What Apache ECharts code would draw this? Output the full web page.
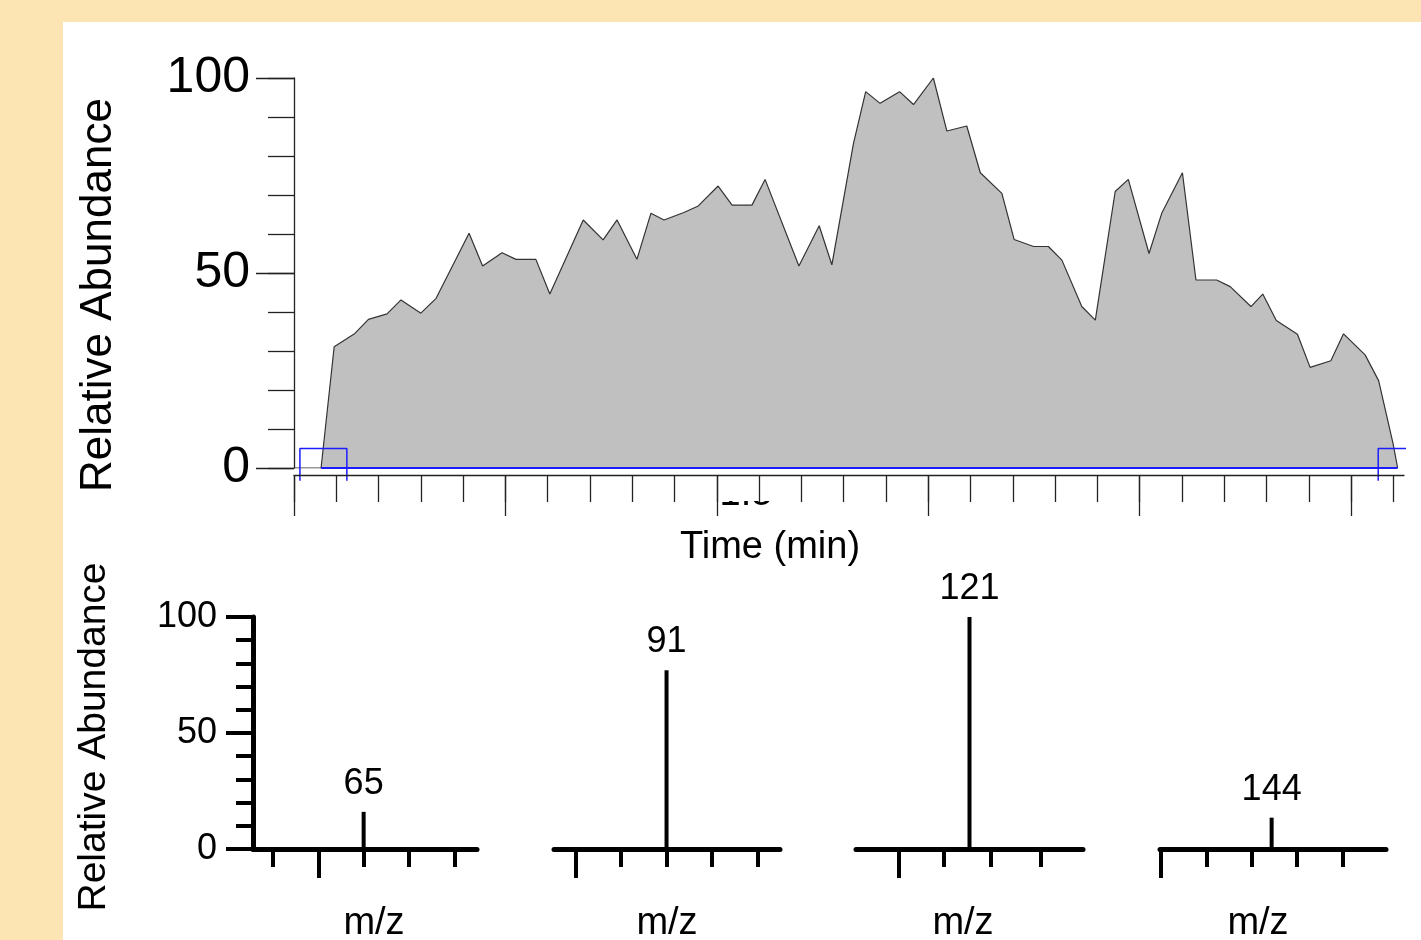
<!DOCTYPE html>
<html>
<head>
<meta charset="utf-8">
<script src="https://cdn.jsdelivr.net/npm/echarts@6/dist/echarts.min.js"></script>
<style>
  html, body { margin: 0; padding: 0; background: #fde5b3; }
  #panel { position: absolute; left: 63px; top: 22px; right: 0; bottom: 0; background: #fff; }
  #chart { position: absolute; left: 0; top: 0; width: 1421px; height: 940px; }
</style>
</head>
<body>
<div id="panel"></div>
<div id="chart"></div>
<script>
// chromatogram (TIC): time in minutes, relative abundance in %
const ticTime = [0, 0.064, 0.095, 0.144, 0.176, 0.220, 0.253, 0.300, 0.336, 0.414, 0.446, 0.492, 0.525,
  0.572, 0.605, 0.684, 0.731, 0.764, 0.811, 0.844, 0.875, 0.922, 0.956, 1.003, 1.036, 1.083, 1.114,
  1.194, 1.242, 1.272, 1.323, 1.352, 1.386, 1.432, 1.465, 1.512, 1.544, 1.591, 1.623, 1.674, 1.703,
  1.749, 1.784, 1.816, 1.863, 1.895, 1.942, 1.973, 2.022, 2.052, 2.101, 2.133, 2.182, 2.214, 2.263,
  2.291, 2.323, 2.373, 2.403, 2.452, 2.482, 2.533, 2.565, 2.599, 2.610]
const ticAbundance = [0, 0, 31.1, 34.5, 38.1, 39.5, 43.1, 39.7, 43.5, 60.2, 51.8, 55.2, 53.5,
  53.5, 44.6, 63.6, 58.5, 63.6, 53.5, 65.3, 63.6, 65.5, 67.2, 72.3, 67.4, 67.4, 74.0,
  51.8, 62.1, 52.1, 83.2, 96.5, 93.5, 96.5, 93.2, 100, 86.4, 87.7, 75.7, 70.4, 58.6,
  56.8, 56.8, 53.3, 41.4, 37.9, 70.9, 74.0, 55.0, 65.3, 75.7, 48.2, 48.2, 46.5, 41.4,
  44.6, 37.8, 34.3, 25.8, 27.5, 34.4, 29.0, 22.4, 6.3, 0]
const timeMax = 2.625
const timeMinorTicks = [0, 0.1, 0.2, 0.3, 0.4, 0.5, 0.6, 0.7, 0.8, 0.9, 1, 1.1, 1.2, 1.3, 1.4,
  1.5, 1.6, 1.7, 1.8, 1.9, 2, 2.1, 2.2, 2.3, 2.4, 2.5, 2.6]
const timeMajorTicks = [0, 0.5, 1, 1.5, 2, 2.5]

// integration baseline and peak start / end markers (blue)
const baselineTime = [0.064, 2.610]
const startMarkTime = [0.014, 0.125]
const endMarkTime = [2.564, 2.656]
const markTop = 5
const markBottom = -3.3

// mass spectra
const mzPeaks = [65, 91, 121, 144]
const peakAbundance = [16, 77, 100, 13.5]
const mzMin = [52.8, 78.6, 108.5, 131.7]
const mzMax = [77.5, 103.5, 133.5, 156.6]
const mzShortTicks = [[55, 65, 70, 75], [86, 91, 96, 101], [118.2, 123.3, 128.8], [136.8, 141.8, 146.8, 151.8]]
const mzLongTicks = [[60], [81], [113.2], [131.8]]

const FONT = '"Liberation Sans", Arial, sans-serif'
const chart = echarts.init(document.getElementById('chart'))

const miniBox = [[253, 224], [554, 226], [856, 227], [1160, 226]] // left, width
const namePad = [[0, 0, 0, 18], [0, 0, 0, 0], [0, 13, 0, 0], [0, 30, 0, 0]]

const grid = [{ left: 294, top: 78, width: 1110, height: 390, outerBoundsMode: 'none', containLabel: false }]
const xAxis = [
  {
    gridIndex: 0, type: 'value', min: 0, max: timeMax, position: 'bottom', offset: 7, z: 5,
    axisLine: { onZero: false, lineStyle: { color: '#222', width: 1.3 } },
    axisTick: { customValues: timeMinorTicks, length: 27, lineStyle: { color: '#222', width: 1.3 } },
    axisLabel: { show: false },
    splitLine: { show: false },
    name: 'Time (min)', nameLocation: 'middle', nameGap: 54,
    nameTextStyle: { fontSize: 38, fontFamily: FONT, color: '#000', padding: [0, 158, 0, 0] }
  },
  {
    gridIndex: 0, type: 'value', min: 0, max: timeMax, position: 'bottom', offset: 7, z: 5,
    axisLine: { show: false, onZero: false },
    axisTick: { customValues: timeMajorTicks, length: 41, lineStyle: { color: '#222', width: 1.3 } },
    axisLabel: { show: false },
    splitLine: { show: false }
  }
]
const yAxis = [
  {
    gridIndex: 0, type: 'value', min: 0, max: 100, interval: 10, position: 'left',
    axisLine: { show: true, onZero: false, lineStyle: { color: '#222', width: 1.3 } },
    axisTick: { length: 26, lineStyle: { color: '#222', width: 1.3 } },
    axisLabel: { show: false },
    splitLine: { show: false },
    name: 'Relative Abundance', nameLocation: 'middle', nameGap: 173,
    nameTextStyle: { fontSize: 44, fontFamily: FONT, color: '#000', padding: [0, 44, 0, 0] }
  },
  {
    gridIndex: 0, type: 'value', min: 0, max: 100, interval: 50, position: 'left',
    axisLine: { show: false, onZero: false },
    axisTick: { length: 38, lineStyle: { color: '#222', width: 1.3 } },
    axisLabel: { fontSize: 50, fontFamily: FONT, color: '#000', margin: 44 },
    splitLine: { show: false }
  }
]
const series = [
  {
    type: 'line', xAxisIndex: 0, yAxisIndex: 0, symbol: 'none', z: 2,
    data: ticTime.map((t, i) => [t, ticAbundance[i]]),
    lineStyle: { color: '#333', width: 1.2 },
    areaStyle: { color: '#c0c0c0', opacity: 1 }
  },
  {
    type: 'line', xAxisIndex: 0, yAxisIndex: 0, symbol: 'none', z: 3, clip: false,
    data: baselineTime.map(t => [t, 0]),
    lineStyle: { color: '#1c1cff', width: 1.8 }
  },
  {
    type: 'line', xAxisIndex: 0, yAxisIndex: 0, symbol: 'none', z: 3, clip: false,
    data: [[startMarkTime[0], markBottom], [startMarkTime[0], markTop], [startMarkTime[1], markTop], [startMarkTime[1], markBottom]],
    lineStyle: { color: '#1c1cff', width: 1.5 }
  },
  {
    type: 'line', xAxisIndex: 0, yAxisIndex: 0, symbol: 'none', z: 3, clip: false,
    data: [[endMarkTime[0], markBottom], [endMarkTime[0], markTop], [endMarkTime[1], markTop]],
    lineStyle: { color: '#1c1cff', width: 1.5 }
  }
]

mzPeaks.forEach((mz, i) => {
  grid.push({ left: miniBox[i][0], width: miniBox[i][1], top: 617, height: 232, outerBoundsMode: 'none', containLabel: false })
  const g = i + 1
  xAxis.push({
    gridIndex: g, type: 'value', min: mzMin[i], max: mzMax[i], position: 'bottom',
    axisLine: { onZero: false, lineStyle: { color: '#000', width: 5 } },
    axisTick: { customValues: mzShortTicks[i], length: 18, lineStyle: { color: '#000', width: 4 } },
    axisLabel: { show: false },
    splitLine: { show: false },
    name: 'm/z', nameLocation: 'middle', nameGap: 56,
    nameTextStyle: { fontSize: 38, fontFamily: FONT, color: '#000', padding: namePad[i] }
  })
  xAxis.push({
    gridIndex: g, type: 'value', min: mzMin[i], max: mzMax[i], position: 'bottom',
    axisLine: { show: false, onZero: false },
    axisTick: { customValues: mzLongTicks[i], length: 29, lineStyle: { color: '#000', width: 4 } },
    axisLabel: { show: false },
    splitLine: { show: false }
  })
  if (i === 0) {
    yAxis.push({
      gridIndex: g, type: 'value', min: 0, max: 100, interval: 10, position: 'left',
      axisLine: { show: true, onZero: false, lineStyle: { color: '#000', width: 5 } },
      axisTick: { length: 17, lineStyle: { color: '#000', width: 4 } },
      axisLabel: { show: false },
      splitLine: { show: false },
      name: 'Relative Abundance', nameLocation: 'middle', nameGap: 139,
      nameTextStyle: { fontSize: 39, fontFamily: FONT, color: '#000', padding: [0, 8, 0, 0] }
    })
    yAxis.push({
      gridIndex: g, type: 'value', min: 0, max: 100, interval: 50, position: 'left',
      axisLine: { show: false, onZero: false },
      axisTick: { length: 27, lineStyle: { color: '#000', width: 4 } },
      axisLabel: { fontSize: 36, fontFamily: FONT, color: '#000', margin: 36 },
      splitLine: { show: false }
    })
  } else {
    yAxis.push({ gridIndex: g, type: 'value', min: 0, max: 100, show: false })
  }
  series.push({
    type: 'bar', xAxisIndex: 2 + i * 2, yAxisIndex: i === 0 ? 2 : 3 + i,
    barWidth: 4,
    data: [[mz, peakAbundance[i]]],
    itemStyle: { color: '#000' },
    label: {
      show: true, position: 'top', distance: 10,
      fontSize: 36, fontFamily: FONT, color: '#000',
      formatter: p => p.value[0]
    }
  })
})

const option = {
  animation: false,
  textStyle: { fontFamily: FONT },
  grid: grid,
  xAxis: xAxis,
  yAxis: yAxis,
  series: series,
  // time label half hidden under the axis, as in the source image
  graphic: [
    {
      type: 'text', x: 746, y: 495, z: 1,
      style: { text: '1.5', fontSize: 38, fontFamily: FONT, fill: '#000', align: 'center', verticalAlign: 'middle', textAlign: 'center', textVerticalAlign: 'middle' }
    },
    {
      type: 'rect', z: 2,
      shape: { x: 718, y: 477, width: 58, height: 24 },
      style: { fill: '#fff' }
    }
  ]
}
chart.setOption(option)
</script>
</body>
</html>
